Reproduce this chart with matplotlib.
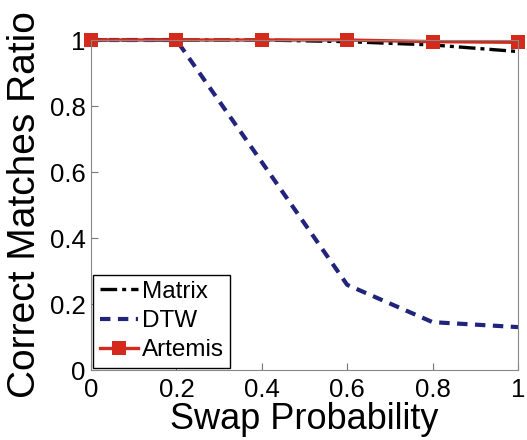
import matplotlib
matplotlib.use('Agg')
import matplotlib.pyplot as plt

plt.rcParams['font.family'] = ['Liberation Sans', 'DejaVu Sans']

swap = [0, 0.2, 0.4, 0.6, 0.8, 1.0]
matrix = [1.0, 1.0, 1.0, 0.995, 0.985, 0.965]
dtw = [1.0, 1.0, 0.63, 0.258, 0.145, 0.13]
artemis = [1.0, 1.0, 1.0, 1.0, 0.995, 0.993]

fig = plt.figure(figsize=(5.27, 4.40), dpi=100)
ax = fig.add_axes([91/527, 70/440, 427/527, 330/440])

ax.plot(swap, matrix, color='black', linestyle=(0, (5, 1.5, 1.2, 1.5)), linewidth=2.4,
        label='Matrix', clip_on=False)
ax.plot(swap, dtw, color='#22237a', linestyle=(0, (2.5, 1.8)), linewidth=3.0,
        label='DTW', clip_on=False)
ax.plot(swap, artemis, color='#d42a1c', linestyle='-', linewidth=2.4,
        marker='s', markersize=10, markeredgewidth=0.0, label='Artemis', clip_on=False)

ax.set_xlim(0, 1)
ax.set_ylim(0, 1)
ax.set_xticks([0, 0.2, 0.4, 0.6, 0.8, 1])
ax.set_xticklabels(['0', '0.2', '0.4', '0.6', '0.8', '1'])
ax.set_yticks([0, 0.2, 0.4, 0.6, 0.8, 1])
ax.set_yticklabels(['0', '0.2', '0.4', '0.6', '0.8', '1'])
ax.tick_params(direction='in', labelsize=18.5, length=5, color='#777777')
ax.tick_params(axis='x', pad=6)
ax.tick_params(axis='y', pad=4)
for s in ax.spines.values():
    s.set_color('#888888')

ax.set_xlabel('Swap Probability', fontsize=26, labelpad=0)
ax.set_ylabel('Correct Matches Ratio', fontsize=28, va='center')
ax.yaxis.set_label_coords(-0.155, 0.5)

leg = ax.legend(loc='lower left', fontsize=17.5, fancybox=False, framealpha=1,
                edgecolor='black', borderaxespad=0.1, handlelength=1.6,
                handletextpad=0.15, labelspacing=0.3, borderpad=0.25)

fig.savefig('out.png', dpi=100)
